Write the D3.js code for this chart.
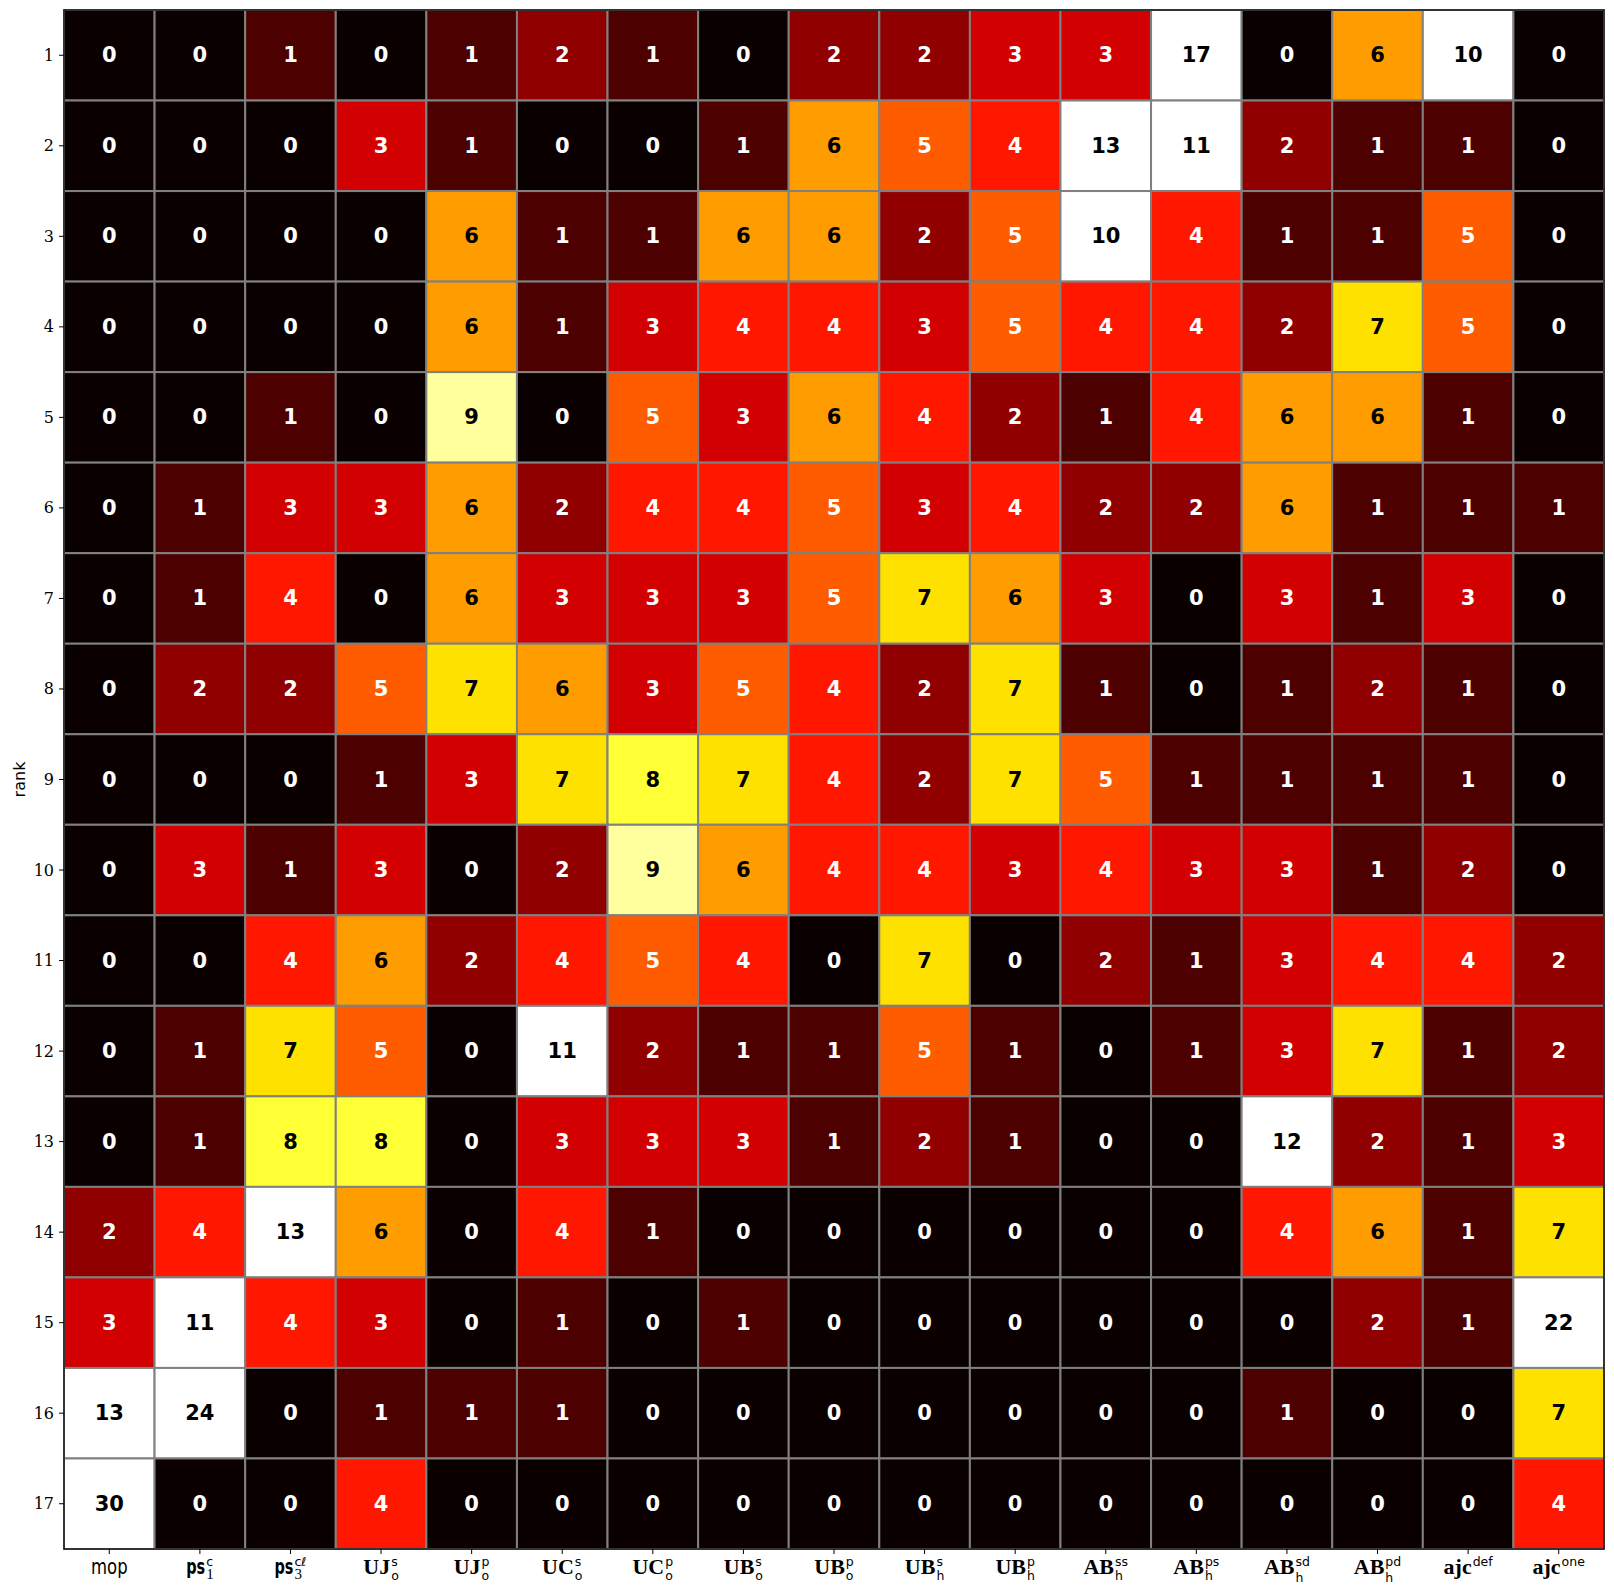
<!DOCTYPE html>
<html>
<head>
<meta charset="utf-8">
<script src="https://cdn.jsdelivr.net/npm/d3@7"></script>
<style>
  html, body { margin: 0; padding: 0; background: #fff; }
  svg { display: block; }
</style>
</head>
<body>
<svg id="chart" width="1614" height="1596"></svg>
<script>
// ---- data ----
const ranks = [1,2,3,4,5,6,7,8,9,10,11,12,13,14,15,16,17];
const xMain = ["mop","ps","ps","UJ","UJ","UC","UC","UB","UB","UB","UB","AB","AB","AB","AB","ajc","ajc"];
const xSup  = ["","c","cℓ","s","p","s","p","s","p","s","p","ss","ps","sd","pd","def","one"];
const xSub  = ["","1","3","o","o","o","o","o","o","h","h","h","h","h","h","",""];
const counts = [
  [0,0,1,0,1,2,1,0,2,2,3,3,17,0,6,10,0],
  [0,0,0,3,1,0,0,1,6,5,4,13,11,2,1,1,0],
  [0,0,0,0,6,1,1,6,6,2,5,10,4,1,1,5,0],
  [0,0,0,0,6,1,3,4,4,3,5,4,4,2,7,5,0],
  [0,0,1,0,9,0,5,3,6,4,2,1,4,6,6,1,0],
  [0,1,3,3,6,2,4,4,5,3,4,2,2,6,1,1,1],
  [0,1,4,0,6,3,3,3,5,7,6,3,0,3,1,3,0],
  [0,2,2,5,7,6,3,5,4,2,7,1,0,1,2,1,0],
  [0,0,0,1,3,7,8,7,4,2,7,5,1,1,1,1,0],
  [0,3,1,3,0,2,9,6,4,4,3,4,3,3,1,2,0],
  [0,0,4,6,2,4,5,4,0,7,0,2,1,3,4,4,2],
  [0,1,7,5,0,11,2,1,1,5,1,0,1,3,7,1,2],
  [0,1,8,8,0,3,3,3,1,2,1,0,0,12,2,1,3],
  [2,4,13,6,0,4,1,0,0,0,0,0,0,4,6,1,7],
  [3,11,4,3,0,1,0,1,0,0,0,0,0,0,2,1,22],
  [13,24,0,1,1,1,0,0,0,0,0,0,0,1,0,0,7],
  [30,0,0,4,0,0,0,0,0,0,0,0,0,0,0,0,4]
];
const vmin = 0, vmax = 10;

// ---- layout ----
const pL = 64, pR = 1604, pT = 10, pB = 1549;
const svg = d3.select("#chart");
const cols = d3.range(xMain.length);
const x = d3.scaleBand().domain(cols).range([pL, pR]).padding(0);
const y = d3.scaleBand().domain(ranks).range([pT, pB]).padding(0);

// matplotlib "hot" colormap (256-entry LUT)
function hotRaw(t) {
  const r = t < 0.365079 ? 0.0416 + (1 - 0.0416) * t / 0.365079 : 1;
  const g = t < 0.365079 ? 0 : (t < 0.746032 ? (t - 0.365079) / (0.746032 - 0.365079) : 1);
  const b = t < 0.746032 ? 0 : (t - 0.746032) / (1 - 0.746032);
  return d3.rgb(Math.round(r * 255), Math.round(g * 255), Math.round(b * 255));
}
const norm = d3.scaleLinear().domain([vmin, vmax]).range([0, 1]).clamp(true);
function hot(v) {
  const t = norm(v);
  let i = Math.floor(t * 256); if (i > 255) i = 255;
  return hotRaw(i / 255).toString();
}

const cells = [];
counts.forEach((row, ri) => row.forEach((v, ci) => cells.push({r: ranks[ri], c: ci, v})));

const gCells = svg.append("g");
gCells.selectAll("rect").data(cells).join("rect")
  .attr("x", d => x(d.c)).attr("y", d => y(d.r))
  .attr("width", x.bandwidth()).attr("height", y.bandwidth())
  .attr("fill", d => hot(d.v))
  .attr("stroke", "#808080").attr("stroke-width", 2);

gCells.selectAll("text").data(cells).join("text")
  .attr("x", d => x(d.c) + x.bandwidth() / 2)
  .attr("y", d => y(d.r) + y.bandwidth() / 2)
  .attr("text-anchor", "middle").attr("dominant-baseline", "central")
  .attr("font-family", "DejaVu Sans").attr("font-weight", "bold").attr("font-size", 21)
  .attr("fill", d => d.v >= 6 ? "#000" : "#fff")
  .text(d => d.v);

// spine
svg.append("rect").attr("x", pL).attr("y", pT).attr("width", pR - pL).attr("height", pB - pT)
  .attr("fill", "none").attr("stroke", "#000").attr("stroke-width", 1.2);

// y axis ticks
const yAx = svg.append("g");
ranks.forEach(r => {
  const yy = y(r) + y.bandwidth() / 2;
  yAx.append("line").attr("x1", pL - 5).attr("x2", pL).attr("y1", yy).attr("y2", yy)
    .attr("stroke", "#000").attr("stroke-width", 1);
  yAx.append("text").attr("x", pL - 10).attr("y", yy).attr("text-anchor", "end")
    .attr("dominant-baseline", "central").attr("font-family", "DejaVu Serif").attr("font-size", 16)
    .attr("fill", "#000").text(r);
});
svg.append("text").attr("transform", `translate(25,${(pT + pB) / 2}) rotate(-90)`)
  .attr("text-anchor", "middle").attr("font-family", "DejaVu Sans").attr("font-size", 16)
  .attr("fill", "#000").text("rank");

// x axis ticks and composite labels
const xAx = svg.append("g");
cols.forEach(c => {
  const xx = x(c) + x.bandwidth() / 2;
  xAx.append("line").attr("x1", xx).attr("x2", xx).attr("y1", pB).attr("y2", pB + 5)
    .attr("stroke", "#000").attr("stroke-width", 1);
  const g = xAx.append("g");
  const m = xMain[c];
  let mainEl = g.append("text").attr("x", 0).attr("y", 0).attr("fill", "#000").text(m);
  if (m === "mop") mainEl.attr("font-family", "DejaVu Sans").attr("font-size", 16.5).attr("transform", "scale(1,1.3)");
  else if (m === "ps") mainEl.attr("font-family", "DejaVu Sans").attr("font-weight", "bold").attr("font-size", 14.5).attr("transform", "scale(1,1.45)");
  else mainEl.attr("font-family", "Liberation Serif").attr("font-weight", "bold").attr("font-size", 22);
  const w = mainEl.node().getComputedTextLength();
  let sw = 0;
  if (xSup[c]) {
    const s = g.append("text").attr("x", w + 1).attr("y", -8).attr("fill", "#000")
      .attr("font-family", "DejaVu Sans").attr("font-size", 12.5).text(xSup[c]);
    sw = Math.max(sw, s.node().getComputedTextLength());
  }
  if (xSub[c]) {
    const isNum = /\d/.test(xSub[c]);
    const lower = (xSup[c] === "sd" || xSup[c] === "pd") ? 8 : 6;
    const s = g.append("text").attr("x", w + 1).attr("y", isNum ? 5 : lower).attr("fill", "#000")
      .attr("font-family", isNum ? "Liberation Serif" : "DejaVu Sans").attr("font-size", isNum ? 15 : 12.5)
      .text(xSub[c]);
    sw = Math.max(sw, s.node().getComputedTextLength());
  }
  const total = w + (sw ? 1 + sw : 0);
  g.attr("transform", `translate(${xx - total / 2},${1574})`);
});
</script>
</body>
</html>
